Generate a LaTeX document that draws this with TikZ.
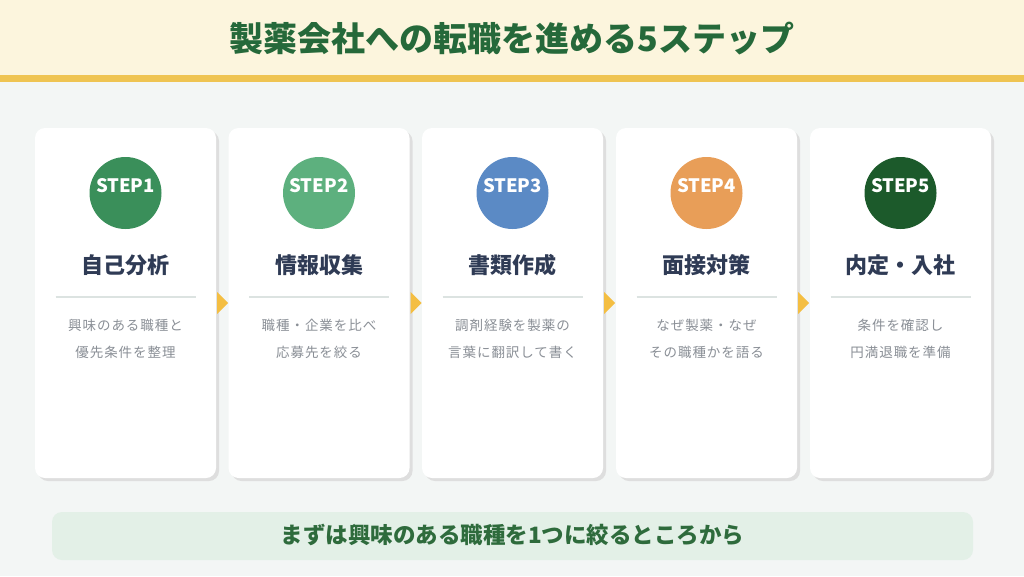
\documentclass[tikz,border=0pt]{standalone}
\usepackage{fontspec}
\setmainfont{Noto Sans CJK JP}
\usetikzlibrary{shadows,calc}
\definecolor{bgcol}{HTML}{F3F6F5}
\definecolor{creamcol}{HTML}{FCF5DD}
\definecolor{goldcol}{HTML}{EFC452}
\definecolor{titlegreen}{HTML}{25693A}
\definecolor{navycol}{HTML}{2F3B55}
\definecolor{graytext}{HTML}{8A8F96}
\definecolor{divcol}{HTML}{DCE3E1}
\definecolor{bannerfill}{HTML}{E3F0E7}
\definecolor{bannertext}{HTML}{2E6B3C}
\definecolor{arrowcol}{HTML}{F4BE42}
\definecolor{sA}{HTML}{3A8F5A}
\definecolor{sB}{HTML}{5DB07E}
\definecolor{sC}{HTML}{5B8AC5}
\definecolor{sD}{HTML}{E89E58}
\definecolor{sE}{HTML}{1C5A2B}
\tikzset{
  card/.style={rectangle, rounded corners=10pt, fill=white, minimum width=181pt, minimum height=350pt, inner sep=0pt,
    drop shadow={shadow xshift=3pt, shadow yshift=-3pt, fill=black!13, opacity=1}},
  stepcircle/.style={circle, minimum size=72pt, inner sep=0pt},
  steplabel/.style={text=white, font=\bfseries\fontsize{18.5}{18.5}\selectfont, inner sep=0pt},
  cardtitle/.style={text=navycol, font=\bfseries\fontsize{22}{22}\selectfont, inner sep=0pt},
  desc/.style={text=graytext, font=\fontsize{13.5}{13.5}\selectfont\addfontfeature{LetterSpace=7}, inner sep=0pt},
  divider/.style={draw=divcol, line width=1.2pt},
  flowarrow/.style={fill=arrowcol},
  titletext/.style={text=titlegreen, font=\bfseries\fontsize{34}{34}\selectfont, inner sep=0pt},
  banner/.style={rectangle, rounded corners=10pt, fill=bannerfill, minimum width=921pt, minimum height=48pt, inner sep=0pt},
  bannerlabel/.style={text=bannertext, font=\bfseries\fontsize{22.5}{22.5}\selectfont, inner sep=0pt}
}
\begin{document}
\begin{tikzpicture}[x=1pt,y=-1pt]
\useasboundingbox (0,0) rectangle (1024,576);
\fill[bgcol] (0,0) rectangle (1024,576);
\fill[creamcol] (0,0) rectangle (1024,75);
\fill[goldcol] (0,75) rectangle (1024,82);
\node[titletext] (title) at (512,39) {製薬会社への転職を進める5ステップ};
\foreach \i/\x/\col/\ttl/\la/\lb in {
  1/125.5/sA/自己分析/興味のある職種と/優先条件を整理,
  2/319/sB/情報収集/職種・企業を比べ/応募先を絞る,
  3/512.5/sC/書類作成/調剤経験を製薬の/言葉に翻訳して書く,
  4/706.5/sD/面接対策/なぜ製薬・なぜ/その職種かを語る,
  5/900.5/sE/内定・入社/条件を確認し/円満退職を準備}{
  \node[card] (c\i) at (\x,303) {};
  \node[stepcircle, fill=\col] (s\i) at (\x,193) {};
  \node[steplabel] (sl\i) at (\x,185.5) {STEP\i};
  \node[cardtitle] (t\i) at (\x,265) {\ttl};
  \coordinate (dl\i) at (\x-70,297);
  \coordinate (dr\i) at (\x+70,297);
  \draw[divider] (dl\i) -- (dr\i);
  \node[desc] (da\i) at (\x,325) {\la};
  \node[desc] (db\i) at (\x,352) {\lb};
}
\foreach \i in {1,2,3,4}{
  \fill[flowarrow] ($(c\i.east)+(1,-11)$) -- ($(c\i.east)+(12,0)$) -- ($(c\i.east)+(1,11)$) -- cycle;
}
\node[banner] (b) at (512.5,536) {};
\node[bannerlabel] (bl) at (512.5,535) {まずは興味のある職種を1つに絞るところから};
\end{tikzpicture}
\end{document}
